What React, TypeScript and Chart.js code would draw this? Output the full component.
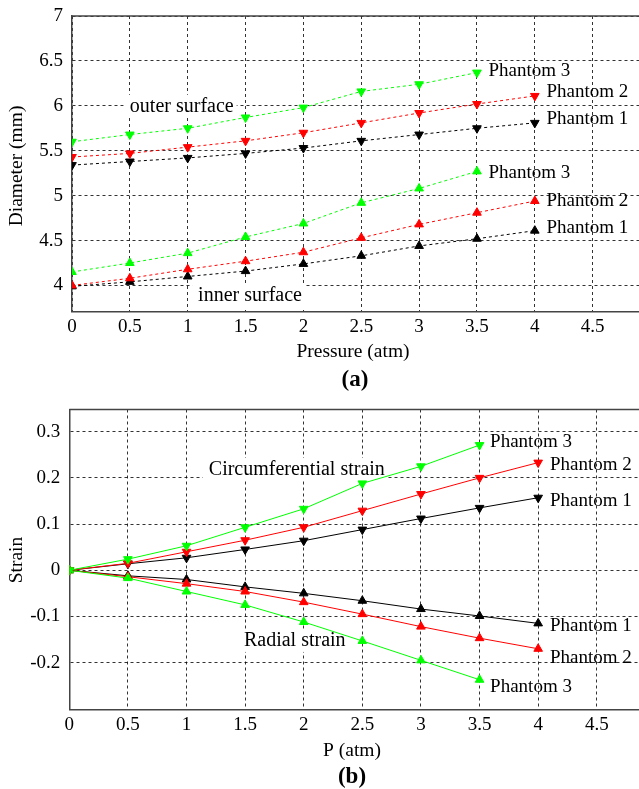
import React, { useEffect, useRef } from "react";
import { Chart, registerables } from "chart.js";
Chart.register(...registerables);

const FONT = "'Liberation Serif', 'Times New Roman', Times, serif";

// Pressure values (atm)
const pressure = [0, 0.5, 1, 1.5, 2, 2.5, 3, 3.5, 4];
const xTicks = [0, 0.5, 1, 1.5, 2, 2.5, 3, 3.5, 4, 4.5];
const yTicksA = [4, 4.5, 5, 5.5, 6, 6.5, 7];
const yTicksB = [-0.2, -0.1, 0, 0.1, 0.2, 0.3];

// (a) Diameter (mm)
const outerP3 = [5.6, 5.68, 5.75, 5.87, 5.98, 6.16, 6.24, 6.37];
const outerP2 = [5.43, 5.47, 5.54, 5.61, 5.7, 5.81, 5.92, 6.02, 6.11];
const outerP1 = [5.34, 5.38, 5.42, 5.47, 5.53, 5.61, 5.68, 5.75, 5.81];
const innerP3 = [4.15, 4.25, 4.36, 4.54, 4.69, 4.92, 5.08, 5.27];
const innerP2 = [4.0, 4.08, 4.18, 4.27, 4.37, 4.53, 4.68, 4.81, 4.94];
const innerP1 = [3.99, 4.04, 4.1, 4.16, 4.24, 4.33, 4.44, 4.52, 4.61];

// (b) Strain
const circP3 = [0, 0.024, 0.053, 0.093, 0.133, 0.188, 0.225, 0.271];
const circP2 = [0, 0.015, 0.04, 0.065, 0.093, 0.129, 0.165, 0.2, 0.233];
const circP1 = [0, 0.014, 0.027, 0.045, 0.064, 0.088, 0.112, 0.135, 0.157];
const radP1 = [0, -0.012, -0.02, -0.036, -0.05, -0.066, -0.084, -0.099, -0.115];
const radP2 = [0, -0.014, -0.029, -0.046, -0.069, -0.095, -0.122, -0.147, -0.17];
const radP3 = [0, -0.017, -0.046, -0.075, -0.112, -0.153, -0.195, -0.237];

// Annotation labels (data coordinates of text left / middle)
const labelsA = [
  { text: "Phantom 3", x: 3.6, y: 6.39 },
  { text: "Phantom 2", x: 4.1, y: 6.15 },
  { text: "Phantom 1", x: 4.1, y: 5.85 },
  { text: "Phantom 3", x: 3.6, y: 5.25 },
  { text: "Phantom 2", x: 4.1, y: 4.945 },
  { text: "Phantom 1", x: 4.1, y: 4.645 },
];
const boxedA = [
  { text: "outer surface", x: 0.5, y: 5.99 },
  { text: "inner surface", x: 1.09, y: 3.88 },
];
const labelsB = [
  { text: "Phantom 3", x: 3.59, y: 0.278 },
  { text: "Phantom 2", x: 4.1, y: 0.228 },
  { text: "Phantom 1", x: 4.1, y: 0.15 },
  { text: "Phantom 1", x: 4.1, y: -0.121 },
  { text: "Phantom 2", x: 4.1, y: -0.191 },
  { text: "Phantom 3", x: 3.59, y: -0.252 },
];
const boxedB = [
  { text: "Circumferential strain", x: 1.19, y: 0.217 },
  { text: "Radial strain", x: 1.49, y: -0.153 },
];

const GREEN = "#00ff00";
const RED = "#ff0000";
const BLACK = "#000000";

function pts(vals: number[]) {
  return vals.map((v, i) => ({ x: pressure[i], y: v }));
}

function ds(vals: number[], color: string, down: boolean, dashed: boolean) {
  return {
    data: pts(vals),
    borderColor: color,
    backgroundColor: color,
    pointBackgroundColor: color,
    pointBorderColor: color,
    pointStyle: "triangle",
    pointRotation: down ? 180 : 0,
    pointRadius: 5,
    pointBorderWidth: 1,
    borderWidth: 1,
    borderDash: dashed ? [3, 3] : [],
    fill: false,
    tension: 0,
  };
}

type Lbl = { text: string; x: number; y: number };

function makePlugin(cfg: {
  labels: Lbl[];
  boxed: Lbl[];
  xTitle: { text: string; x: number; y: number };
  yTitle: { text: string; x: number; y: number };
  sub: { text: string; x: number; y: number };
}) {
  return {
    id: "annot",
    beforeDatasetsDraw(chart: any) {
      const ctx = chart.ctx;
      const xs = chart.scales.x;
      const ys = chart.scales.y;
      ctx.save();
      ctx.font = `20px ${FONT}`;
      ctx.textAlign = "left";
      ctx.textBaseline = "middle";
      for (const l of cfg.boxed) {
        const px = xs.getPixelForValue(l.x);
        const py = ys.getPixelForValue(l.y);
        const w = ctx.measureText(l.text).width;
        ctx.fillStyle = "#ffffff";
        ctx.fillRect(px - 6, py - 12, w + 9, 23);
        ctx.fillStyle = "#000";
        ctx.fillText(l.text, px, py);
      }
      ctx.restore();
    },
    afterDraw(chart: any) {
      const ctx = chart.ctx;
      const xs = chart.scales.x;
      const ys = chart.scales.y;
      const a = chart.chartArea;
      ctx.save();
      // top frame line
      ctx.strokeStyle = "#444";
      ctx.lineWidth = 1.5;
      ctx.beginPath();
      ctx.moveTo(a.left, a.top);
      ctx.lineTo(a.right, a.top);
      ctx.stroke();

      ctx.fillStyle = "#000";
      ctx.font = `19px ${FONT}`;
      ctx.textAlign = "left";
      ctx.textBaseline = "middle";
      for (const l of cfg.labels) {
        ctx.fillText(l.text, xs.getPixelForValue(l.x), ys.getPixelForValue(l.y));
      }
      ctx.textAlign = "center";
      ctx.font = `19.5px ${FONT}`;
      ctx.fillText(cfg.xTitle.text, cfg.xTitle.x, cfg.xTitle.y);
      ctx.font = `bold 23px ${FONT}`;
      ctx.fillText(cfg.sub.text, cfg.sub.x, cfg.sub.y);
      ctx.save();
      ctx.translate(cfg.yTitle.x, cfg.yTitle.y);
      ctx.rotate(-Math.PI / 2);
      ctx.font = `19.5px ${FONT}`;
      ctx.fillText(cfg.yTitle.text, 0, 0);
      ctx.restore();
      ctx.restore();
    },
  };
}

const fmt = (v: any) => String(Number(Number(v).toFixed(3)));

function makeOptions(p: {
  xMax: number;
  yMin: number;
  yMax: number;
  yTicks: number[];
  top: number;
  xHeight: number;
  yWidth: number;
}) {
  const tickFont = { family: FONT, size: 19 };
  const grid = { color: "rgba(0,0,0,0.8)", lineWidth: 1, drawTicks: false };
  const border = { display: true, color: "#444", width: 1.5, dash: [3, 3] };
  return {
    animation: false,
    responsive: false,
    events: [],
    layout: { autoPadding: false, padding: { top: p.top, left: 0, right: 0, bottom: 0 } },
    plugins: { legend: { display: false }, tooltip: { enabled: false }, title: { display: false } },
    scales: {
      x: {
        type: "linear",
        min: 0,
        max: p.xMax,
        afterBuildTicks: (s: any) => {
          s.ticks = xTicks.map((v) => ({ value: v }));
        },
        afterFit: (s: any) => {
          s.height = p.xHeight;
          s.paddingRight = 0;
          s.paddingLeft = 0;
        },
        grid,
        border,
        ticks: {
          padding: 4,
          color: "#000",
          font: tickFont,
          maxRotation: 0,
          autoSkip: false,
          callback: fmt,
        },
      },
      y: {
        type: "linear",
        min: p.yMin,
        max: p.yMax,
        afterBuildTicks: (s: any) => {
          s.ticks = p.yTicks.map((v) => ({ value: v }));
        },
        afterFit: (s: any) => {
          s.width = p.yWidth;
          s.paddingTop = 0;
          s.paddingBottom = 0;
        },
        grid,
        border,
        ticks: { padding: 9, color: "#000", font: tickFont, autoSkip: false, callback: fmt },
      },
    },
  };
}

const CANVAS_W = 646;

export default function App() {
  const r1 = useRef<HTMLCanvasElement | null>(null);
  const r2 = useRef<HTMLCanvasElement | null>(null);

  useEffect(() => {
    const c1 = new Chart(r1.current as HTMLCanvasElement, {
      type: "line",
      data: {
        datasets: [
          ds(outerP3, GREEN, true, true),
          ds(outerP2, RED, true, true),
          ds(outerP1, BLACK, true, true),
          ds(innerP3, GREEN, false, true),
          ds(innerP2, RED, false, true),
          ds(innerP1, BLACK, false, true),
        ] as any,
      },
      options: makeOptions({
        xMax: 4.961,
        yMin: 3.71,
        yMax: 7,
        yTicks: yTicksA,
        top: 16,
        xHeight: 83.5,
        yWidth: 72,
      }) as any,
      plugins: [
        makePlugin({
          labels: labelsA,
          boxed: boxedA,
          xTitle: { text: "Pressure (atm)", x: 353, y: 352 },
          yTitle: { text: "Diameter (mm)", x: 17, y: 166 },
          sub: { text: "(a)", x: 355, y: 380 },
        }),
      ],
    });
    const c2 = new Chart(r2.current as HTMLCanvasElement, {
      type: "line",
      data: {
        datasets: [
          ds(circP3, GREEN, true, false),
          ds(circP2, RED, true, false),
          ds(circP1, BLACK, true, false),
          ds(radP3, GREEN, false, false),
          ds(radP2, RED, false, false),
          ds(radP1, BLACK, false, false),
        ] as any,
      },
      options: makeOptions({
        xMax: 4.92,
        yMin: -0.301,
        yMax: 0.348,
        yTicks: yTicksB,
        top: 14.5,
        xHeight: 79.7,
        yWidth: 69.3,
      }) as any,
      plugins: [
        makePlugin({
          labels: labelsB,
          boxed: boxedB,
          xTitle: { text: "P (atm)", x: 352, y: 356 },
          yTitle: { text: "Strain", x: 17, y: 165 },
          sub: { text: "(b)", x: 352, y: 382 },
        }),
      ],
    });
    return () => {
      c1.destroy();
      c2.destroy();
    };
  }, []);

  return (
    <div
      style={{
        position: "absolute",
        left: 0,
        top: 0,
        width: 639,
        height: 789,
        background: "#fff",
        overflow: "hidden",
      }}
    >
      <div style={{ position: "absolute", left: 0, top: 0, width: 639, height: 395, overflow: "hidden" }}>
        <canvas ref={r1} width={CANVAS_W} height={395} style={{ display: "block" }} />
      </div>
      <div style={{ position: "absolute", left: 0, top: 395, width: 639, height: 394, overflow: "hidden" }}>
        <canvas ref={r2} width={CANVAS_W} height={394} style={{ display: "block" }} />
      </div>
    </div>
  );
}
